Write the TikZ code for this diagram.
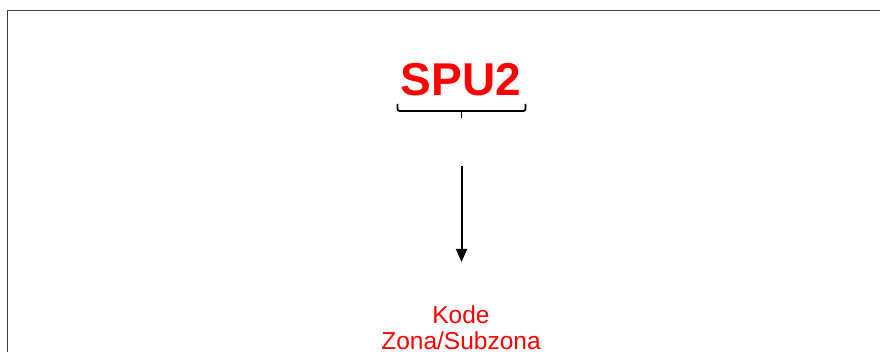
\documentclass[tikz,border=0pt]{standalone}
\usepackage{fontspec}
\setmainfont{Liberation Sans}
\usetikzlibrary{arrows.meta}
\definecolor{spured}{RGB}{255,0,0}
\tikzset{
  frameline/.style={draw=black!75, line width=1.4pt},
  bracestyle/.style={draw=black, line width=1.7pt},
  arrowstyle/.style={draw=black, line width=2pt, -{Triangle[length=13pt,width=11pt]}},
  redlabel/.style={text=spured, inner sep=0pt, align=center}
}
\begin{document}
\begin{tikzpicture}[x=1pt,y=-1pt]
\useasboundingbox (0,0) rectangle (880,352);
\fill[white] (0,0) rectangle (880,352);
\coordinate (ftl) at (7.5,10.5);
\coordinate (ftr) at (880,10.5);
\coordinate (fbl) at (7.5,352);
\draw[frameline] (ftr) -- (ftl) -- (fbl);
\node[redlabel, font=\fontsize{46}{50}\selectfont\bfseries] (spu) at (461,80) {SPU2};
\coordinate (bl) at (397.5,104);
\coordinate (br) at (525.5,104);
\coordinate (bm) at (461.5,118);
\draw[bracestyle, rounded corners=2pt] (bl) -- (397.5,111) -- (525.5,111) -- (br);
\draw[bracestyle] (461.5,111) -- (bm);
\coordinate (as) at (461.5,166);
\coordinate (ae) at (461.5,262);
\draw[arrowstyle] (as) -- (ae);
\node[redlabel, font=\fontsize{24.5}{26}\selectfont] (kode) at (461,327.5) {Kode\\Zona/Subzona};
\end{tikzpicture}
\end{document}
